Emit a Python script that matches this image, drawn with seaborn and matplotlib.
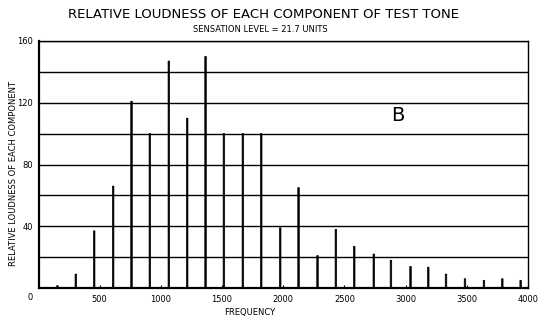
import matplotlib
matplotlib.use("Agg")
import matplotlib.pyplot as plt
import seaborn as sns
import pandas as pd

# Components of test tone B: frequency (cycles) and relative loudness
frequency = [155, 305, 455, 610, 760, 910, 1065, 1215, 1365, 1515, 1670,
             1820, 1975, 2125, 2280, 2430, 2580, 2740, 2880, 3040, 3185,
             3330, 3485, 3640, 3790, 3940]
loudness = [1.5, 9, 37, 66, 121, 100, 147, 110, 150, 100, 100,
            100, 39, 65, 21, 38, 27, 22, 18, 14, 13.5,
            9, 6, 5, 6, 5]

x_ticks = [500, 1000, 1500, 2000, 2500, 3000, 3500, 4000]
y_grid = [0, 20, 40, 60, 80, 100, 120, 140, 160]
y_labels = ["", "", "40", "", "80", "", "120", "", "160"]

title = "RELATIVE LOUDNESS OF EACH COMPONENT OF TEST TONE"
subtitle = "SENSATION LEVEL = 21.7 UNITS"
ylabel = "RELATIVE LOUDNESS OF EACH COMPONENT"
xlabel = "FREQUENCY"

df = pd.DataFrame({"frequency": frequency, "loudness": loudness})

sns.set_theme(style="ticks")
plt.rcParams["font.family"] = ["DejaVu Sans"]
plt.rcParams["text.color"] = "black"
plt.rcParams["xtick.color"] = "black"
plt.rcParams["ytick.color"] = "black"

fig = plt.figure(figsize=(5.43, 3.2), dpi=100)
ax = fig.add_axes([38.5 / 543, 32 / 320, (528 - 38.5) / 543, (288 - 41) / 320])

sns.barplot(data=df, x="frequency", y="loudness", native_scale=True,
            width=0.09, color="black", edgecolor="black", linewidth=0.5,
            errorbar=None, saturation=1, ax=ax)
# keep every spectral line the same thickness regardless of pixel position
for bar in ax.patches:
    bar.set_snap(False)

ax.set_xlim(0, 3990)
ax.set_ylim(0, 160)

ax.set_yticks(y_grid)
ax.set_yticklabels(y_labels, fontsize=6)
ax.yaxis.grid(True, color="black", linewidth=1.0)
ax.set_axisbelow(True)
ax.tick_params(axis="y", length=0, pad=4)

ax.set_xticks(x_ticks)
ax.set_xticklabels([str(v) for v in x_ticks], fontsize=6)
ax.tick_params(axis="x", direction="in", length=2, width=0.8, pad=5)

ax.set_xlabel("")
ax.set_ylabel("")
for side in ["left", "bottom", "top", "right"]:
    ax.spines[side].set_visible(True)
    ax.spines[side].set_color("black")
ax.spines["left"].set_linewidth(1.6)
ax.spines["bottom"].set_linewidth(1.6)
ax.spines["top"].set_linewidth(1.0)
ax.spines["right"].set_linewidth(1.0)

ax.text(2940, 112, "B", fontsize=14, ha="center", va="center")

fig.text(263.5 / 543, 1 - 15 / 320, title, fontsize=9.5, ha="center", va="center")
fig.text(260.5 / 543, 1 - 29 / 320, subtitle, fontsize=6, ha="center", va="center")
fig.text(14 / 543, 1 - 173 / 320, ylabel, fontsize=6, rotation=90,
         ha="center", va="center")
fig.text(250 / 543, 1 - 312 / 320, xlabel, fontsize=6, ha="center", va="center")
fig.text(30 / 543, 1 - 297 / 320, "0", fontsize=6, ha="center", va="center")

fig.savefig("out.png", dpi=100, facecolor="white")
